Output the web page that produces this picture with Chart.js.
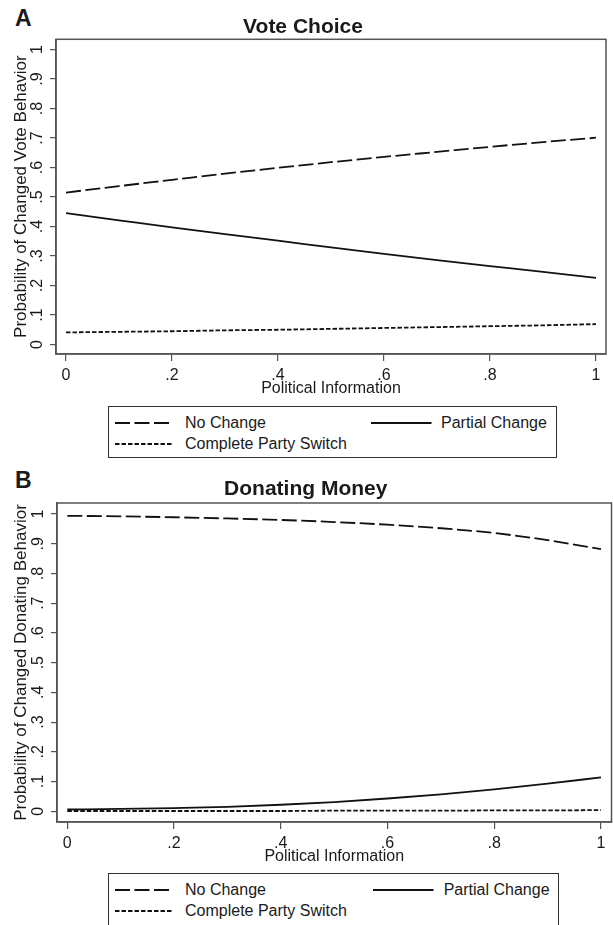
<!DOCTYPE html>
<html>
<head>
<meta charset="utf-8">
<script src="https://cdn.jsdelivr.net/npm/chart.js@4.4.0/dist/chart.umd.min.js"></script>
<style>
html,body{margin:0;padding:0;background:#fff;}
body{width:613px;height:925px;position:relative;overflow:hidden;font-family:"Liberation Sans",Arial,Helvetica,sans-serif;color:#1a1a1a;}
canvas{position:absolute;left:0;}
.letter{position:absolute;left:15px;font-weight:bold;font-size:23px;line-height:23px;}
.legend{position:absolute;border:1px solid #333;box-sizing:border-box;background:#fff;}
.legend .t{position:absolute;font-size:16px;line-height:16px;white-space:nowrap;color:#1a1a1a;}
.legend svg{position:absolute;overflow:visible;}
</style>
</head>
<body>
<div class="letter" style="top:7px;">A</div>
<canvas id="chartA" width="613" height="404" style="top:0px;width:613px;height:404px;"></canvas>
<div class="legend" id="legendA" style="left:108px;top:406px;width:449px;height:52px;"></div>

<div class="letter" style="top:468.7px;">B</div>
<canvas id="chartB" width="613" height="410" style="top:462px;width:613px;height:410px;"></canvas>
<div class="legend" id="legendB" style="left:108px;top:873px;width:451px;height:53px;"></div>

<script>
// ---------- data ----------
const xValues = [0, 0.1, 0.2, 0.3, 0.4, 0.5, 0.6, 0.7, 0.8, 0.9, 1];
const xTickValues = [0, 0.2, 0.4, 0.6, 0.8, 1];
const xTickLabels = ['0', '.2', '.4', '.6', '.8', '1'];
const yTickValues = [0, 0.1, 0.2, 0.3, 0.4, 0.5, 0.6, 0.7, 0.8, 0.9, 1];
const yTickLabels = ['0', '.1', '.2', '.3', '.4', '.5', '.6', '.7', '.8', '.9', '1'];
const seriesNames = ['No Change', 'Partial Change', 'Complete Party Switch'];

// Panel A: Vote Choice
const voteNoChange = [0.515, 0.537, 0.558, 0.579, 0.599, 0.618, 0.636, 0.653, 0.670, 0.686, 0.701];
const votePartial  = [0.445, 0.421, 0.397, 0.374, 0.352, 0.329, 0.307, 0.286, 0.266, 0.246, 0.226];
const voteSwitch   = [0.041, 0.043, 0.045, 0.048, 0.050, 0.053, 0.056, 0.059, 0.062, 0.065, 0.069];

// Panel B: Donating Money
const donateNoChange = [0.994, 0.992, 0.989, 0.985, 0.980, 0.973, 0.964, 0.952, 0.936, 0.912, 0.882];
const donatePartial  = [0.006, 0.008, 0.011, 0.015, 0.022, 0.031, 0.043, 0.057, 0.074, 0.093, 0.114];
const donateSwitch   = [0.001, 0.001, 0.001, 0.001, 0.001, 0.002, 0.002, 0.002, 0.003, 0.003, 0.004];

// ---------- styling ----------
const FONT = '"Liberation Sans", Arial, Helvetica, sans-serif';
const INK = '#1a1a1a';
const LINE = '#111111';
const AXIS = '#555555';
const dashStyles = [[15, 4.5], [], [4.5, 2]];

const frameAndYLabels = {
  id: 'frameAndYLabels',
  afterDraw(chart) {
    const {ctx, chartArea: a} = chart;
    const ys = chart.scales.y;
    ctx.save();
    ctx.strokeStyle = AXIS;
    ctx.lineWidth = 1.5;
    ctx.strokeRect(a.left, a.top, a.right - a.left, a.bottom - a.top);
    ctx.fillStyle = INK;
    ctx.font = '16px ' + FONT;
    ctx.textAlign = 'center';
    ctx.textBaseline = 'middle';
    yTickValues.forEach((v, i) => {
      const py = ys.getPixelForValue(v);
      ctx.save();
      ctx.translate(a.left - 18, py);
      ctx.rotate(-Math.PI / 2);
      ctx.fillText(yTickLabels[i], 0, 0);
      ctx.restore();
    });
    ctx.restore();
  }
};

function makePanel(id, title, yTitle, series, g) {
  const datasets = series.map((arr, k) => ({
    label: seriesNames[k],
    data: xValues.map((x, i) => ({x: x, y: arr[i]})),
    borderColor: LINE,
    borderWidth: 1.8,
    borderDash: dashStyles[k],
    pointRadius: 0,
    fill: false,
    cubicInterpolationMode: 'monotone'
  }));
  return new Chart(document.getElementById(id), {
    type: 'line',
    data: {datasets},
    plugins: [frameAndYLabels],
    options: {
      responsive: false,
      devicePixelRatio: 1,
      animation: false,
      layout: {padding: {left: 0, right: g.padRight, top: 0, bottom: 0}},
      plugins: {
        legend: {display: false},
        tooltip: {enabled: false},
        title: {
          display: true, text: title, color: INK,
          font: {family: FONT, size: 21, weight: 'bold', lineHeight: 1},
          padding: {top: g.titleTop, bottom: g.titleBottom}
        }
      },
      scales: {
        x: {
          type: 'linear', min: g.xMin, max: g.xMax,
          afterBuildTicks: s => { s.ticks = xTickValues.map(v => ({value: v})); },
          ticks: {
            callback: v => xTickLabels[xTickValues.indexOf(v)],
            font: {family: FONT, size: 16}, color: INK, padding: 5,
            maxRotation: 0, minRotation: 0, autoSkip: false
          },
          grid: {drawOnChartArea: false, drawTicks: true, tickLength: 7, color: AXIS, lineWidth: 1.2},
          border: {display: true, color: AXIS, width: 1.5},
          title: {display: true, text: 'Political Information', color: INK,
                  font: {family: FONT, size: 16, lineHeight: 1.2}, padding: {top: 0, bottom: 5.4}},
          afterFit: s => { s.height = 50; }
        },
        y: {
          type: 'linear', min: g.yMin, max: g.yMax,
          afterBuildTicks: s => { s.ticks = yTickValues.map(v => ({value: v})); },
          ticks: {display: false},
          grid: {drawOnChartArea: false, drawTicks: true, tickLength: 6, color: AXIS, lineWidth: 1.2},
          border: {display: true, color: AXIS, width: 1.5},
          title: {display: true, text: yTitle, color: INK,
                  font: {family: FONT, size: 17, lineHeight: 1.2}, padding: {top: 10.8, bottom: 0}},
          afterFit: s => { s.width = g.yWidth; }
        }
      }
    }
  });
}

makePanel('chartA', 'Vote Choice', 'Probability of Changed Vote Behavior',
  [voteNoChange, votePartial, voteSwitch],
  {padRight: 7, titleTop: 17, titleBottom: 1.3, xMin: -0.0189, xMax: 1.0189,
   yMin: -0.0322, yMax: 1.0346, yWidth: 56});

makePanel('chartB', 'Donating Money', 'Probability of Changed Donating Behavior',
  [donateNoChange, donatePartial, donateSwitch],
  {padRight: 1.5, titleTop: 16.5, titleBottom: 3.5, xMin: -0.0193, xMax: 1.0197,
   yMin: -0.036, yMax: 1.037, yWidth: 57});

// ---------- legends (HTML) ----------
function sample(k, x, yc, len) {
  const dash = dashStyles[k].length ? dashStyles[k].join(' ') : 'none';
  return `<svg style="left:${x}px;top:${yc - 2}px;" width="${len}" height="4">` +
         `<line x1="0" y1="2" x2="${len}" y2="2" stroke="${LINE}" stroke-width="1.8" stroke-dasharray="${dash}"/></svg>`;
}
function buildLegend(id, g) {
  const el = document.getElementById(id);
  const items = [
    {k: 0, sx: 5.5, tx: 76, yc: g.row1, len: 58.5},
    {k: 1, sx: g.px, tx: g.ptx, yc: g.row1, len: 60.5},
    {k: 2, sx: 5.5, tx: 76, yc: g.row2, len: 58.5}
  ];
  el.innerHTML = items.map(it =>
    sample(it.k, it.sx, it.yc, it.len) +
    `<div class="t" style="left:${it.tx}px;top:${it.yc - 7.8}px;">${seriesNames[it.k]}</div>`
  ).join('');
}
buildLegend('legendA', {row1: 16, row2: 37, px: 261.6, ptx: 332});
buildLegend('legendB', {row1: 15.5, row2: 37, px: 264, ptx: 334.7});
</script>
</body>
</html>
